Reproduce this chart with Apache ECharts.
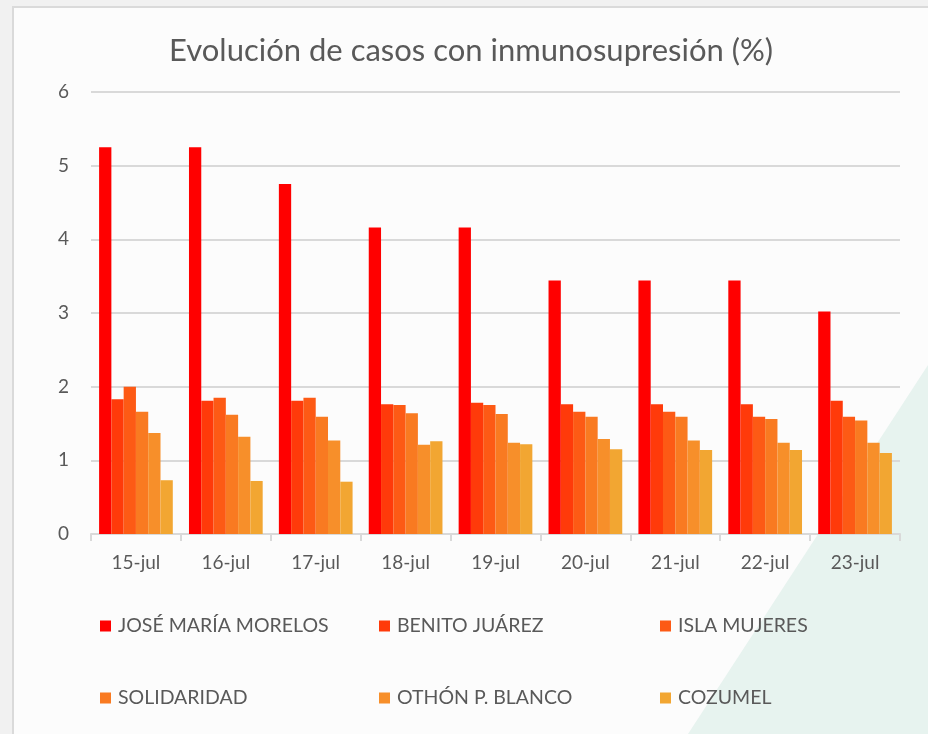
<!DOCTYPE html>
<html>
<head>
<meta charset="utf-8">
<script src="https://cdn.jsdelivr.net/npm/echarts@6/dist/echarts.min.js"></script>
<style>
  html, body { margin: 0; padding: 0; background: #f1f1f1; }
  #container { width: 928px; height: 734px; }
</style>
</head>
<body>
<div id="container"></div>
<script>
var dom = document.getElementById("container");
var myChart = echarts.init(dom);

var days = ['15-jul', '16-jul', '17-jul', '18-jul', '19-jul', '20-jul', '21-jul', '22-jul', '23-jul'];
var names = ['JOSÉ MARÍA MORELOS', 'BENITO JUÁREZ', 'ISLA MUJERES', 'SOLIDARIDAD', 'OTHÓN P. BLANCO', 'COZUMEL'];
var colors = ['#ff0000', '#ff3a0a', '#fd5a15', '#f97a21', '#f78f2a', '#f2a632'];

var joseMaria   = [5.25, 5.25, 4.75, 4.16, 4.16, 3.44, 3.44, 3.44, 3.02];
var benito      = [1.83, 1.81, 1.81, 1.76, 1.78, 1.76, 1.76, 1.76, 1.81];
var islaMujeres = [2.00, 1.85, 1.85, 1.75, 1.75, 1.66, 1.66, 1.59, 1.59];
var solidaridad = [1.66, 1.62, 1.59, 1.64, 1.63, 1.59, 1.59, 1.56, 1.54];
var othon       = [1.37, 1.32, 1.27, 1.21, 1.24, 1.29, 1.27, 1.24, 1.24];
var cozumel     = [0.73, 0.72, 0.71, 1.26, 1.22, 1.15, 1.14, 1.14, 1.10];

var values = [joseMaria, benito, islaMujeres, solidaridad, othon, cozumel];

var fontFam = 'Lato, "Open Sans", sans-serif';
var textCol = '#595959';

var seriesList = [];
var legends = [];
var legendLeft = [95, 374, 655];
var legendTop = [611, 683];

names.forEach(function (name, i) {
    seriesList.push({
        type: 'bar',
        name: name,
        data: values[i],
        barGap: '0%',
        barCategoryGap: '18%',
        itemStyle: { color: colors[i] }
    });
    legends.push({
        data: [name],
        left: legendLeft[i % 3],
        top: legendTop[Math.floor(i / 3)],
        icon: 'rect',
        itemWidth: 11,
        itemHeight: 11,
        itemGap: 0,
        selectedMode: false,
        textStyle: { fontFamily: fontFam, fontSize: 19.5, color: textCol, padding: [0, 0, 0, 2] }
    });
});

var option = {
    animation: false,
    backgroundColor: '#f1f1f1',
    graphic: [
        {
            type: 'rect', z: -20, silent: true,
            shape: { x: 13, y: 7, width: 920, height: 740 },
            style: { fill: '#fcfcfc', stroke: '#dadada', lineWidth: 2 }
        },
        {
            type: 'polygon', z: -19, silent: true,
            shape: { points: [[928, 365], [928, 734], [688, 734]] },
            style: { fill: '#e3f1ec', opacity: 0.85 }
        }
    ],
    title: {
        text: 'Evolución de casos con inmunosupresión (%)',
        left: 164,
        top: 30,
        textStyle: { fontFamily: fontFam, fontSize: 31, fontWeight: 'normal', color: textCol }
    },
    legend: legends,
    grid: {
        left: 91,
        top: 92,
        width: 809,
        height: 442
    },
    xAxis: {
        type: 'category',
        data: days,
        axisLine: { lineStyle: { color: '#d9d9d9', width: 2 } },
        axisTick: { show: true, length: 7, lineStyle: { color: '#d9d9d9', width: 2 } },
        axisLabel: { fontFamily: fontFam, fontSize: 19, color: textCol, margin: 19 }
    },
    yAxis: {
        type: 'value',
        min: 0,
        max: 6,
        interval: 1,
        axisLine: { show: false },
        axisTick: { show: false },
        axisLabel: { fontFamily: fontFam, fontSize: 19, color: textCol, margin: 22 },
        splitLine: { lineStyle: { color: '#d9d9d9', width: 2 } }
    },
    series: seriesList
};

myChart.setOption(option);
</script>
</body>
</html>
